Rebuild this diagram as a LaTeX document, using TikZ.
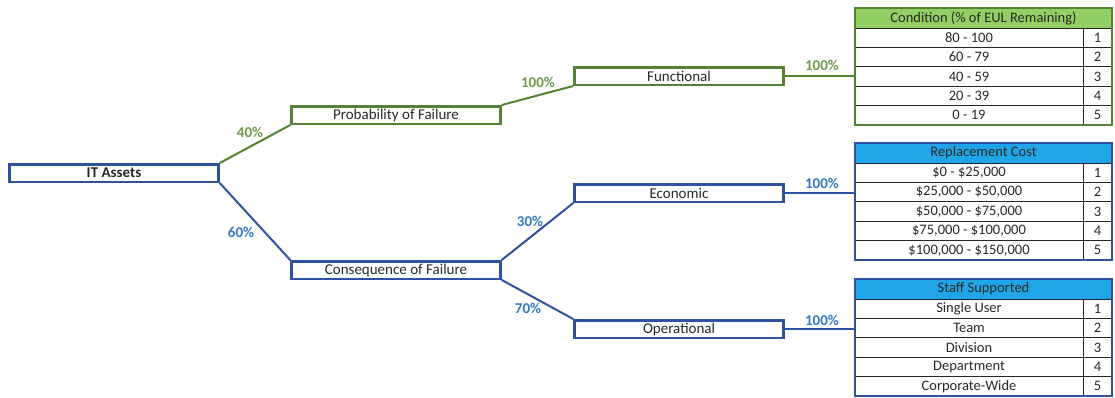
\documentclass[tikz,border=0pt]{standalone}
\usepackage{fontspec}
\setmainfont{Carlito}
\definecolor{gline}{RGB}{84,130,53}
\definecolor{gtext}{RGB}{110,155,75}
\definecolor{bline}{RGB}{47,82,158}
\definecolor{btext}{RGB}{50,120,195}
\definecolor{ghead}{RGB}{146,206,100}
\definecolor{bhead}{RGB}{32,166,230}
\definecolor{txt}{RGB}{40,40,40}
\tikzset{
  box/.style={draw, line width=2.5pt, minimum width=209pt, minimum height=17.5pt, inner sep=0pt,
    font=\fontsize{15}{15}\selectfont, text=txt},
  gbox/.style={box, draw=gline},
  bbox/.style={box, draw=bline},
  gcon/.style={draw=gline, line width=2pt},
  bcon/.style={draw=bline, line width=2pt},
  pct/.style={font=\fontsize{15}{15}\selectfont\bfseries, inner sep=0pt},
  gpct/.style={pct, text=gtext},
  bpct/.style={pct, text=btext},
  cellbase/.style={draw=black!85, line width=0.8pt, inner sep=0pt, minimum height=19.4pt,
    font=\fontsize{14.5}{15}\selectfont, text=txt},
  hcell/.style={cellbase, minimum width=257pt, minimum height=20pt},
  lcell/.style={cellbase, minimum width=228pt},
  rcell/.style={cellbase, minimum width=29pt},
  frame/.style={line width=2pt, minimum width=257pt, minimum height=117pt, inner sep=0pt}
}
\newcommand\mktable[6]{%
  \node[hcell, fill=#4] (#1h) at (983.5,#2+10) {#5};
  \foreach \t [count=\i] in {#6} {
    \node[lcell] (#1l\i) at (969,#2+10.3+\i*19.4) {\t};
    \node[rcell] (#1r\i) at (1097.5,#2+10.3+\i*19.4) {\i};
  }
  \node[frame, draw=#3] (#1) at (983.5,#2+58.5) {};
}
\begin{document}
\begin{tikzpicture}[x=1pt,y=-1pt]
\useasboundingbox (0,0) rectangle (1115,397);

% boxes
\node[bbox, font=\fontsize{15}{15}\selectfont\bfseries] (it) at (114,173) {IT Assets};
\node[gbox] (pof) at (396,115) {Probability of Failure};
\node[bbox] (cof) at (396,270) {Consequence of Failure};
\node[gbox] (func) at (679,76) {Functional};
\node[bbox] (eco) at (679,193) {Economic};
\node[bbox] (op) at (679,329) {Operational};

% tables
\mktable{cond}{8}{gline}{ghead}{Condition (\% of EUL Remaining)}{80 - 100, 60 - 79, 40 - 59, 20 - 39, 0 - 19}
\mktable{cost}{143}{bline}{bhead}{Replacement Cost}{{\$0 - \$25,000},{\$25,000 - \$50,000},{\$50,000 - \$75,000},{\$75,000 - \$100,000},{\$100,000 - \$150,000}}
\mktable{staff}{279}{bline}{bhead}{Staff Supported}{Single User, Team, Division, Department, Corporate-Wide}

% connectors
\draw[gcon] (it.north east) -- (pof.south west);
\draw[bcon] (it.south east) -- (cof.north west);
\draw[gcon] (pof.north east) -- (func.south west);
\draw[bcon] (cof.north east) -- (eco.south west);
\draw[bcon] (cof.south east) -- (op.north west);
\draw[gcon] (func.east) -- (func.east -| cond.west);
\draw[bcon] (eco.east) -- (eco.east -| cost.west);
\draw[bcon] (op.east) -- (op.east -| staff.west);

% labels
\node[gpct] (l40) at (250,132) {40\%};
\node[bpct] (l60) at (241,232) {60\%};
\node[gpct] (l100a) at (538,82) {100\%};
\node[gpct] (l100b) at (822,65) {100\%};
\node[bpct] (l30) at (530,221) {30\%};
\node[bpct] (l70) at (528,308) {70\%};
\node[bpct] (l100c) at (822,183) {100\%};
\node[bpct] (l100d) at (822,320) {100\%};
\end{tikzpicture}
\end{document}
